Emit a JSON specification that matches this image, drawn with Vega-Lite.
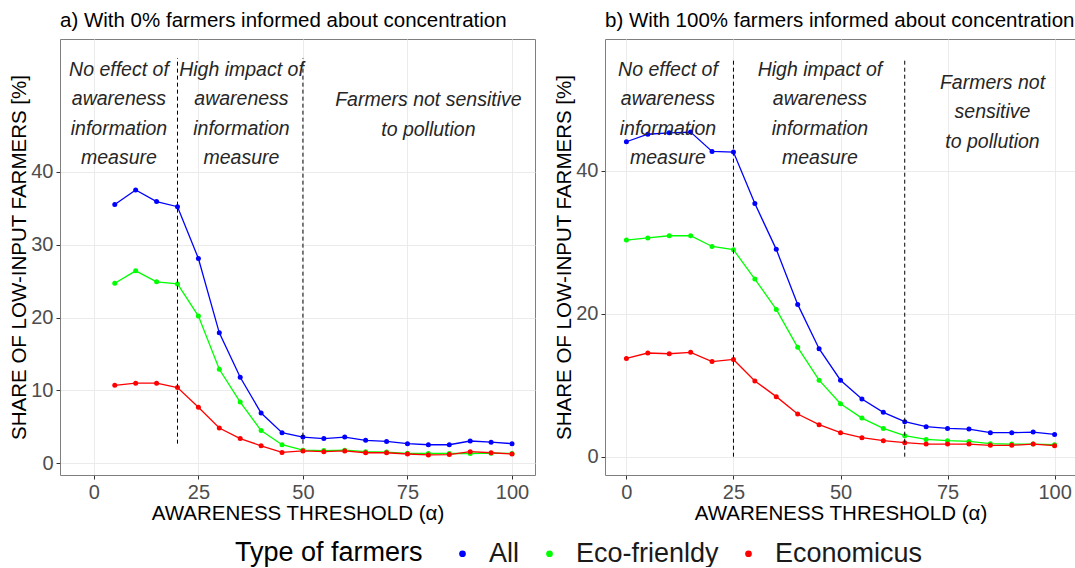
{
  "$schema": "https://vega.github.io/schema/vega-lite/v6.json",
  "padding": {"left": 9, "top": 10, "right": 0, "bottom": 0},
  "spacing": 18,
  "datasets": {
    "series": [
      {"p":"a","g":"All","x":5,"v":35.5},{"p":"a","g":"All","x":10,"v":37.5},{"p":"a","g":"All","x":15,"v":35.9},{"p":"a","g":"All","x":20,"v":35.2},{"p":"a","g":"All","x":25,"v":28.1},{"p":"a","g":"All","x":30,"v":17.9},{"p":"a","g":"All","x":35,"v":11.8},{"p":"a","g":"All","x":40,"v":6.9},{"p":"a","g":"All","x":45,"v":4.2},{"p":"a","g":"All","x":50,"v":3.6},{"p":"a","g":"All","x":55,"v":3.4},{"p":"a","g":"All","x":60,"v":3.6},{"p":"a","g":"All","x":65,"v":3.15},{"p":"a","g":"All","x":70,"v":3.0},{"p":"a","g":"All","x":75,"v":2.7},{"p":"a","g":"All","x":80,"v":2.55},{"p":"a","g":"All","x":85,"v":2.55},{"p":"a","g":"All","x":90,"v":3.06},{"p":"a","g":"All","x":95,"v":2.9},{"p":"a","g":"All","x":100,"v":2.7},
      {"p":"a","g":"Eco-frienldy","x":5,"v":24.7},{"p":"a","g":"Eco-frienldy","x":10,"v":26.4},{"p":"a","g":"Eco-frienldy","x":15,"v":24.9},{"p":"a","g":"Eco-frienldy","x":20,"v":24.6},{"p":"a","g":"Eco-frienldy","x":25,"v":20.2},{"p":"a","g":"Eco-frienldy","x":30,"v":12.9},{"p":"a","g":"Eco-frienldy","x":35,"v":8.4},{"p":"a","g":"Eco-frienldy","x":40,"v":4.5},{"p":"a","g":"Eco-frienldy","x":45,"v":2.55},{"p":"a","g":"Eco-frienldy","x":50,"v":1.8},{"p":"a","g":"Eco-frienldy","x":55,"v":1.75},{"p":"a","g":"Eco-frienldy","x":60,"v":1.8},{"p":"a","g":"Eco-frienldy","x":65,"v":1.6},{"p":"a","g":"Eco-frienldy","x":70,"v":1.55},{"p":"a","g":"Eco-frienldy","x":75,"v":1.37},{"p":"a","g":"Eco-frienldy","x":80,"v":1.35},{"p":"a","g":"Eco-frienldy","x":85,"v":1.35},{"p":"a","g":"Eco-frienldy","x":90,"v":1.35},{"p":"a","g":"Eco-frienldy","x":95,"v":1.4},{"p":"a","g":"Eco-frienldy","x":100,"v":1.35},
      {"p":"a","g":"Economicus","x":5,"v":10.7},{"p":"a","g":"Economicus","x":10,"v":11.0},{"p":"a","g":"Economicus","x":15,"v":11.0},{"p":"a","g":"Economicus","x":20,"v":10.4},{"p":"a","g":"Economicus","x":25,"v":7.7},{"p":"a","g":"Economicus","x":30,"v":4.85},{"p":"a","g":"Economicus","x":35,"v":3.4},{"p":"a","g":"Economicus","x":40,"v":2.4},{"p":"a","g":"Economicus","x":45,"v":1.5},{"p":"a","g":"Economicus","x":50,"v":1.7},{"p":"a","g":"Economicus","x":55,"v":1.6},{"p":"a","g":"Economicus","x":60,"v":1.7},{"p":"a","g":"Economicus","x":65,"v":1.45},{"p":"a","g":"Economicus","x":70,"v":1.45},{"p":"a","g":"Economicus","x":75,"v":1.28},{"p":"a","g":"Economicus","x":80,"v":1.15},{"p":"a","g":"Economicus","x":85,"v":1.2},{"p":"a","g":"Economicus","x":90,"v":1.6},{"p":"a","g":"Economicus","x":95,"v":1.45},{"p":"a","g":"Economicus","x":100,"v":1.28},
      {"p":"b","g":"All","x":0,"v":44.05},{"p":"b","g":"All","x":5,"v":45.1},{"p":"b","g":"All","x":10,"v":45.3},{"p":"b","g":"All","x":15,"v":45.4},{"p":"b","g":"All","x":20,"v":42.7},{"p":"b","g":"All","x":25,"v":42.6},{"p":"b","g":"All","x":30,"v":35.4},{"p":"b","g":"All","x":35,"v":29.0},{"p":"b","g":"All","x":40,"v":21.3},{"p":"b","g":"All","x":45,"v":15.1},{"p":"b","g":"All","x":50,"v":10.7},{"p":"b","g":"All","x":55,"v":8.07},{"p":"b","g":"All","x":60,"v":6.2},{"p":"b","g":"All","x":65,"v":4.9},{"p":"b","g":"All","x":70,"v":4.2},{"p":"b","g":"All","x":75,"v":3.96},{"p":"b","g":"All","x":80,"v":3.87},{"p":"b","g":"All","x":85,"v":3.36},{"p":"b","g":"All","x":90,"v":3.36},{"p":"b","g":"All","x":95,"v":3.45},{"p":"b","g":"All","x":100,"v":3.12},
      {"p":"b","g":"Eco-frienldy","x":0,"v":30.3},{"p":"b","g":"Eco-frienldy","x":5,"v":30.6},{"p":"b","g":"Eco-frienldy","x":10,"v":30.9},{"p":"b","g":"Eco-frienldy","x":15,"v":30.9},{"p":"b","g":"Eco-frienldy","x":20,"v":29.4},{"p":"b","g":"Eco-frienldy","x":25,"v":28.95},{"p":"b","g":"Eco-frienldy","x":30,"v":24.85},{"p":"b","g":"Eco-frienldy","x":35,"v":20.6},{"p":"b","g":"Eco-frienldy","x":40,"v":15.3},{"p":"b","g":"Eco-frienldy","x":45,"v":10.7},{"p":"b","g":"Eco-frienldy","x":50,"v":7.4},{"p":"b","g":"Eco-frienldy","x":55,"v":5.4},{"p":"b","g":"Eco-frienldy","x":60,"v":3.96},{"p":"b","g":"Eco-frienldy","x":65,"v":2.94},{"p":"b","g":"Eco-frienldy","x":70,"v":2.42},{"p":"b","g":"Eco-frienldy","x":75,"v":2.24},{"p":"b","g":"Eco-frienldy","x":80,"v":2.14},{"p":"b","g":"Eco-frienldy","x":85,"v":1.82},{"p":"b","g":"Eco-frienldy","x":90,"v":1.77},{"p":"b","g":"Eco-frienldy","x":95,"v":1.77},{"p":"b","g":"Eco-frienldy","x":100,"v":1.68},
      {"p":"b","g":"Economicus","x":0,"v":13.75},{"p":"b","g":"Economicus","x":5,"v":14.5},{"p":"b","g":"Economicus","x":10,"v":14.4},{"p":"b","g":"Economicus","x":15,"v":14.6},{"p":"b","g":"Economicus","x":20,"v":13.3},{"p":"b","g":"Economicus","x":25,"v":13.6},{"p":"b","g":"Economicus","x":30,"v":10.6},{"p":"b","g":"Economicus","x":35,"v":8.4},{"p":"b","g":"Economicus","x":40,"v":5.97},{"p":"b","g":"Economicus","x":45,"v":4.48},{"p":"b","g":"Economicus","x":50,"v":3.36},{"p":"b","g":"Economicus","x":55,"v":2.66},{"p":"b","g":"Economicus","x":60,"v":2.24},{"p":"b","g":"Economicus","x":65,"v":1.96},{"p":"b","g":"Economicus","x":70,"v":1.77},{"p":"b","g":"Economicus","x":75,"v":1.77},{"p":"b","g":"Economicus","x":80,"v":1.77},{"p":"b","g":"Economicus","x":85,"v":1.59},{"p":"b","g":"Economicus","x":90,"v":1.59},{"p":"b","g":"Economicus","x":95,"v":1.77},{"p":"b","g":"Economicus","x":100,"v":1.54}
    ],
    "vlines": [
      {"p":"a","x":20,"y":2.7,"y2":55.6},{"p":"a","x":50,"y":2.7,"y2":55.6},
      {"p":"b","x":25,"y":0,"y2":55.6},{"p":"b","x":65,"y":0,"y2":55.6}
    ],
    "notes": [
      {"p":"a","x":6,"y":53.95,"label":"No effect of\nawareness\ninformation\nmeasure"},
      {"p":"a","x":35.3,"y":53.95,"label":"High impact of\nawareness\ninformation\nmeasure"},
      {"p":"a","x":80,"y":49.8,"label":"Farmers not sensitive\nto pollution"},
      {"p":"b","x":9.7,"y":54.1,"label":"No effect of\nawareness\ninformation\nmeasure"},
      {"p":"b","x":45.2,"y":54.1,"label":"High impact of\nawareness\ninformation\nmeasure"},
      {"p":"b","x":85.5,"y":52.3,"label":"Farmers not\nsensitive\nto pollution"}
    ]
  },
  "hconcat": [
    {
      "width": 475, "height": 436,
      "title": {"text": "a) With 0% farmers informed about concentration"},
      "resolve": {"axis": {"x": "independent", "y": "independent"}},
      "layer": [
        {
          "data": {"name": "series"},
          "transform": [{"filter": "datum.p === 'a'"}],
          "mark": {"type": "line", "strokeWidth": 1.3},
          "encoding": {
            "x": {"field": "x", "type": "quantitative", "scale": {"domain": [-8.1, 105.5], "nice": false, "zero": false}, "axis": {"values": [0, 25, 50, 75, 100], "title": "AWARENESS THRESHOLD (α)"}},
            "y": {"field": "v", "type": "quantitative", "scale": {"domain": [-1.6, 58.2], "nice": false, "zero": false}, "axis": {"values": [0, 10, 20, 30, 40], "title": "SHARE OF LOW-INPUT FARMERS [%]"}},
            "color": {"field": "g", "type": "nominal", "title": "Type of farmers", "scale": {"domain": ["All", "Eco-frienldy", "Economicus"], "range": ["#0000ff", "#00ff00", "#ff0000"]},
              "legend": {"orient": "none", "legendX": 175, "legendY": 501, "direction": "horizontal", "titleOrient": "left", "symbolType": "circle"}}
          }
        },
        {
          "data": {"name": "series"},
          "transform": [{"filter": "datum.p === 'a'"}],
          "mark": {"type": "point", "filled": true, "opacity": 1, "size": 25},
          "encoding": {
            "x": {"field": "x", "type": "quantitative", "axis": {"orient": "top", "values": [12.5, 37.5, 62.5, 87.5], "labels": false, "ticks": false, "domain": false, "title": null, "gridColor": "#f3f3f3"}},
            "y": {"field": "v", "type": "quantitative", "axis": {"orient": "right", "values": [5, 15, 25, 35, 45, 50, 55], "labels": false, "ticks": false, "domain": false, "title": null, "gridColor": "#f3f3f3"}},
            "color": {"field": "g", "type": "nominal", "title": "Type of farmers",
              "legend": {"orient": "none", "legendX": 175, "legendY": 501, "direction": "horizontal", "titleOrient": "left", "symbolType": "circle"}}
          }
        },
        {
          "data": {"name": "vlines"},
          "transform": [{"filter": "datum.p === 'a'"}],
          "mark": {"type": "rule", "strokeDash": [4, 3], "strokeWidth": 1, "color": "#000"},
          "encoding": {
            "x": {"field": "x", "type": "quantitative", "axis": null},
            "y": {"field": "y", "type": "quantitative", "axis": null},
            "y2": {"field": "y2"}
          }
        },
        {
          "data": {"name": "notes"},
          "transform": [{"filter": "datum.p === 'a'"}],
          "mark": {"type": "text", "fontStyle": "italic", "fontSize": 19.5, "lineBreak": "\n", "lineHeight": 29.5, "align": "center", "baseline": "middle", "color": "#262626"},
          "encoding": {
            "x": {"field": "x", "type": "quantitative", "axis": null},
            "y": {"field": "y", "type": "quantitative", "axis": null},
            "text": {"field": "label"}
          }
        }
      ]
    },
    {
      "width": 471, "height": 436,
      "title": {"text": "b) With 100% farmers informed about concentration"},
      "resolve": {"axis": {"x": "independent", "y": "independent"}},
      "layer": [
        {
          "data": {"name": "series"},
          "transform": [{"filter": "datum.p === 'b'"}],
          "mark": {"type": "line", "strokeWidth": 1.3},
          "encoding": {
            "x": {"field": "x", "type": "quantitative", "scale": {"domain": [-5, 105], "nice": false, "zero": false}, "axis": {"values": [0, 25, 50, 75, 100], "title": "AWARENESS THRESHOLD (α)"}},
            "y": {"field": "v", "type": "quantitative", "scale": {"domain": [-2.56, 58.42], "nice": false, "zero": false}, "axis": {"values": [0, 20, 40], "title": "SHARE OF LOW-INPUT FARMERS [%]"}},
            "color": {"field": "g", "type": "nominal", "title": "Type of farmers", "scale": {"domain": ["All", "Eco-frienldy", "Economicus"], "range": ["#0000ff", "#00ff00", "#ff0000"]},
              "legend": {"orient": "none", "legendX": 175, "legendY": 501, "direction": "horizontal", "titleOrient": "left", "symbolType": "circle"}}
          }
        },
        {
          "data": {"name": "series"},
          "transform": [{"filter": "datum.p === 'b'"}],
          "mark": {"type": "point", "filled": true, "opacity": 1, "size": 25},
          "encoding": {
            "x": {"field": "x", "type": "quantitative", "axis": {"orient": "top", "values": [12.5, 37.5, 62.5, 87.5], "labels": false, "ticks": false, "domain": false, "title": null, "gridColor": "#f3f3f3"}},
            "y": {"field": "v", "type": "quantitative", "axis": {"orient": "right", "values": [10, 30, 50], "labels": false, "ticks": false, "domain": false, "title": null, "gridColor": "#f3f3f3"}},
            "color": {"field": "g", "type": "nominal", "title": "Type of farmers",
              "legend": {"orient": "none", "legendX": 175, "legendY": 501, "direction": "horizontal", "titleOrient": "left", "symbolType": "circle"}}
          }
        },
        {
          "data": {"name": "vlines"},
          "transform": [{"filter": "datum.p === 'b'"}],
          "mark": {"type": "rule", "strokeDash": [4, 3], "strokeWidth": 1, "color": "#000"},
          "encoding": {
            "x": {"field": "x", "type": "quantitative", "axis": null},
            "y": {"field": "y", "type": "quantitative", "axis": null},
            "y2": {"field": "y2"}
          }
        },
        {
          "data": {"name": "notes"},
          "transform": [{"filter": "datum.p === 'b'"}],
          "mark": {"type": "text", "fontStyle": "italic", "fontSize": 19.5, "lineBreak": "\n", "lineHeight": 29.5, "align": "center", "baseline": "middle", "color": "#262626"},
          "encoding": {
            "x": {"field": "x", "type": "quantitative", "axis": null},
            "y": {"field": "y", "type": "quantitative", "axis": null},
            "text": {"field": "label"}
          }
        }
      ]
    }
  ],
  "config": {
    "font": "Liberation Sans",
    "view": {"stroke": "#7f7f7f", "strokeWidth": 1},
    "axis": {
      "domain": false,
      "labelFontSize": 20,
      "labelColor": "#4d4d4d",
      "labelPadding": 3,
      "tickColor": "#333333",
      "tickSize": 4,
      "titleFontSize": 20.5,
      "titleFontWeight": "normal",
      "titleColor": "#000000",
      "titlePadding": 1,
      "gridColor": "#ebebeb",
      "gridWidth": 1
    },
    "title": {"anchor": "start", "frame": "group", "fontSize": 20.5, "fontWeight": "normal", "color": "#000000", "offset": 8},
    "legend": {
      "titleFontSize": 27,
      "titleFontWeight": "normal",
      "titleColor": "#000000",
      "titlePadding": 26,
      "titleBaseline": "middle",
      "titleLimit": 400,
      "labelFontSize": 27,
      "labelLimit": 400,
      "labelColor": "#1a1a1a",
      "labelOffset": 13,
      "columnPadding": 16,
      "symbolSize": 45,
      "symbolStrokeWidth": 0
    }
  }
}
